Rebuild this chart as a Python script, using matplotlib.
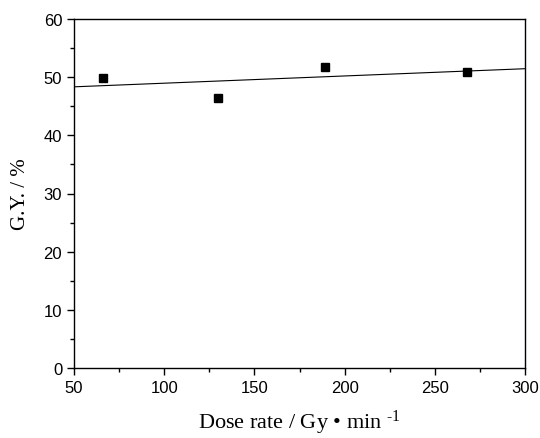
import matplotlib
matplotlib.use("Agg")
import matplotlib.pyplot as plt
import numpy as np
from matplotlib.ticker import MultipleLocator

dose_rate = [66, 130, 189, 268]
grafting_yield = [49.8, 46.5, 51.8, 50.9]

x_ticks = [50, 100, 150, 200, 250, 300]
y_ticks = [0, 10, 20, 30, 40, 50, 60]

plt.rcParams["mathtext.fontset"] = "custom"
plt.rcParams["mathtext.rm"] = "Liberation Serif"
plt.rcParams["mathtext.it"] = "Liberation Serif"

fig = plt.figure(figsize=(5.4, 4.39), dpi=100)
ax = fig.add_axes([74 / 540, 1 - 369 / 439, 451 / 540, 349 / 439])

# linear fit through the points
slope, intercept = np.polyfit(dose_rate, grafting_yield, 1)
fit_x = np.array([50, 300])
ax.plot(fit_x, intercept + slope * fit_x, color="black", lw=0.8)
ax.plot(dose_rate, grafting_yield, "s", color="black", ms=6)

ax.set_xlim(50, 300)
ax.set_ylim(0, 60)
ax.set_xticks(x_ticks)
ax.set_yticks(y_ticks)
ax.xaxis.set_minor_locator(MultipleLocator(25))
ax.yaxis.set_minor_locator(MultipleLocator(5))
ax.tick_params(which="both", direction="out", top=False, right=False, width=1)
ax.tick_params(which="major", length=5, labelsize=12)
ax.tick_params(which="minor", length=3)
for lab in ax.get_xticklabels() + ax.get_yticklabels():
    lab.set_family("Liberation Sans")
for s in ax.spines.values():
    s.set_linewidth(1)

ax.set_xlabel("Dose rate / Gy \u2022 min $^{\\text{-1}}$", family="Liberation Serif", fontsize=16, labelpad=9)
ax.set_ylabel("G.Y. / %", family="Liberation Serif", fontsize=15, labelpad=10)

fig.savefig("out.png", dpi=100)
